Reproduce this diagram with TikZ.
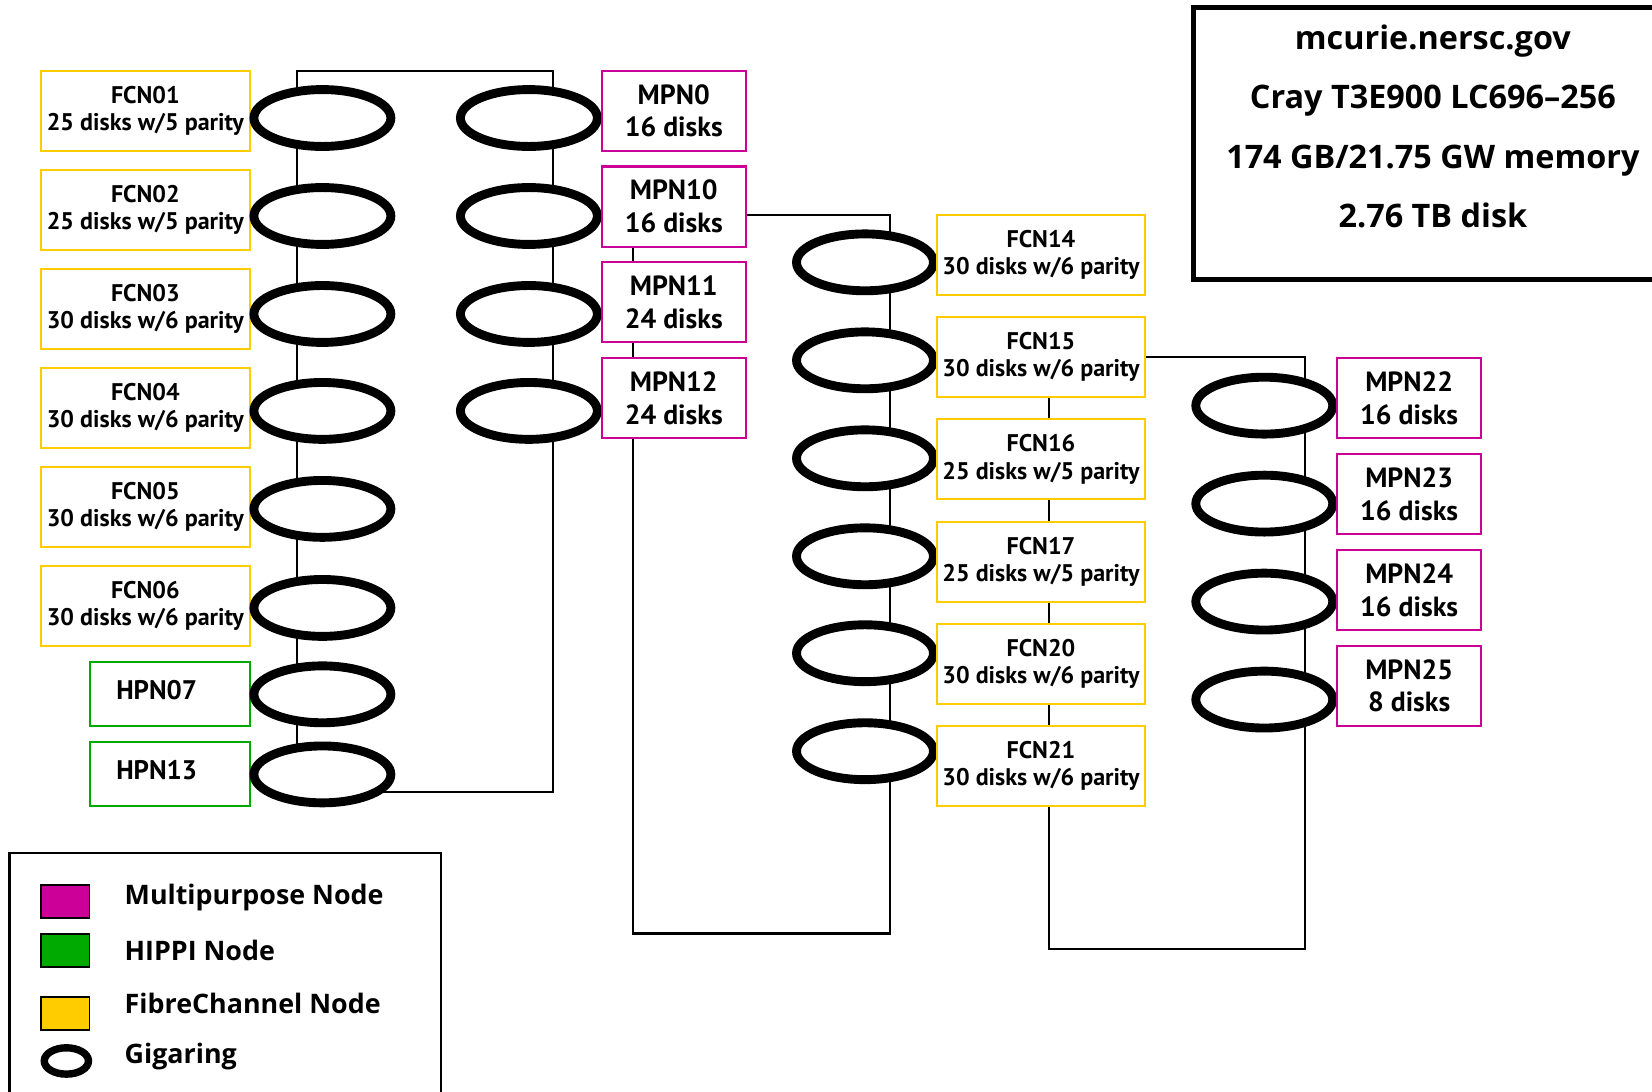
\documentclass[tikz,border=0pt]{standalone}
\usepackage{fontspec}
\setmainfont{PT Sans}
\newfontfamily\infofont{Open Sans}
\usetikzlibrary{shapes.geometric}

\definecolor{mpncol}{RGB}{204,0,153}
\definecolor{hpncol}{RGB}{0,170,0}
\definecolor{fcncol}{RGB}{255,204,0}

\tikzset{
	diskbox/.style={
		draw,
		fill=white,
		line width=1.1pt,
		align=center,
		inner sep=0pt,
		minimum height=1.52cm
	},
	fcnNode/.style={diskbox, draw=fcncol, minimum width=3.96cm, font=\bfseries\fontsize{13}{14.7}\selectfont},
	mpnNode/.style={diskbox, draw=mpncol, minimum width=2.74cm, font=\bfseries\fontsize{15}{17.6}\selectfont},
	hpnNode/.style={diskbox, draw=hpncol, minimum width=3.04cm, minimum height=1.22cm,
		text width=2.04cm, align=left, font=\bfseries\fontsize{14.5}{17}\selectfont},
	hpnText/.style={anchor=west, inner sep=0pt, font=\bfseries\fontsize{14.5}{17}\selectfont},
	gigaring/.style={draw, ellipse, fill=white, line width=4.8pt, inner sep=0pt,
		minimum width=2.6cm, minimum height=1.08cm},
	ringLine/.style={draw, line width=1.1pt},
	infoText/.style={align=center, font=\infofont\bfseries\fontsize{17.5}{32.2}\selectfont},
	legendSwatch/.style={draw, line width=0.9pt, minimum width=0.92cm, minimum height=0.62cm, inner sep=0pt},
	legendText/.style={anchor=west, inner sep=0pt, font=\infofont\bfseries\fontsize{14.5}{18}\selectfont}
}

\begin{document}
\begin{tikzpicture}[x=0.02cm, y=-0.02cm]
	\useasboundingbox (0,0) rectangle (1568,1036);

	% Rings
	\coordinate (ringA-nw) at (282,67);
	\coordinate (ringA-se) at (525,752);
	\coordinate (ringB-nw) at (601,204);
	\coordinate (ringB-se) at (845,886);
	\coordinate (ringC-nw) at (996,339);
	\coordinate (ringC-se) at (1239,901);
	\draw[ringLine] (ringA-nw) rectangle (ringA-se);
	\draw[ringLine] (ringB-nw) rectangle (ringB-se);
	\draw[ringLine] (ringC-nw) rectangle (ringC-se);

	% Left column
	\node[fcnNode] (fcn01) at (138,105) {FCN01\\25 disks w/5 parity};
	\node[fcnNode] (fcn02) at (138,199) {FCN02\\25 disks w/5 parity};
	\node[fcnNode] (fcn03) at (138,293) {FCN03\\30 disks w/6 parity};
	\node[fcnNode] (fcn04) at (138,387) {FCN04\\30 disks w/6 parity};
	\node[fcnNode] (fcn05) at (138,481) {FCN05\\30 disks w/6 parity};
	\node[fcnNode] (fcn06) at (138,575) {FCN06\\30 disks w/6 parity};
	\node[hpnNode] (hpn07) at (161,658.5) {};
	\node[hpnNode] (hpn13) at (161,734.5) {};
	\node[hpnText] (hpn07txt) at (110,655) {HPN07};
	\node[hpnText] (hpn13txt) at (110,731) {HPN13};

	\node[gigaring] (gigA1) at (306,112) {};
	\node[gigaring] (gigA2) at (306,205) {};
	\node[gigaring] (gigA3) at (306,298) {};
	\node[gigaring] (gigA4) at (306,390) {};
	\node[gigaring] (gigA5) at (306,483) {};
	\node[gigaring] (gigA6) at (306,577) {};
	\node[gigaring] (gigA7) at (306,659) {};
	\node[gigaring] (gigA8) at (306,735) {};
	\node[gigaring] (gigA9) at (502,112) {};
	\node[gigaring] (gigA10) at (502,205) {};
	\node[gigaring] (gigA11) at (502,298) {};
	\node[gigaring] (gigA12) at (502,390) {};

	% Multipurpose nodes shared by the first two rings
	\node[mpnNode] (mpn0) at (639.5,105) {MPN0\\16 disks};
	\node[mpnNode] (mpn10) at (639.5,196) {MPN10\\16 disks};
	\node[mpnNode] (mpn11) at (639.5,287) {MPN11\\24 disks};
	\node[mpnNode] (mpn12) at (639.5,378) {MPN12\\24 disks};

	% Middle ring
	\node[gigaring] (gigB1) at (821,249) {};
	\node[gigaring] (gigB2) at (821,342) {};
	\node[gigaring] (gigB3) at (821,435) {};
	\node[gigaring] (gigB4) at (821,528) {};
	\node[gigaring] (gigB5) at (821,620) {};
	\node[gigaring] (gigB6) at (821,713) {};

	\node[fcnNode] (fcn14) at (988,242) {FCN14\\30 disks w/6 parity};
	\node[fcnNode] (fcn15) at (988,339) {FCN15\\30 disks w/6 parity};
	\node[fcnNode] (fcn16) at (988,436) {FCN16\\25 disks w/5 parity};
	\node[fcnNode] (fcn17) at (988,533) {FCN17\\25 disks w/5 parity};
	\node[fcnNode] (fcn20) at (988,630) {FCN20\\30 disks w/6 parity};
	\node[fcnNode] (fcn21) at (988,727) {FCN21\\30 disks w/6 parity};

	% Right ring
	\node[gigaring] (gigC1) at (1200,385) {};
	\node[gigaring] (gigC2) at (1200,478) {};
	\node[gigaring] (gigC3) at (1200,571) {};
	\node[gigaring] (gigC4) at (1200,664) {};

	\node[mpnNode] (mpn22) at (1337.5,378) {MPN22\\16 disks};
	\node[mpnNode] (mpn23) at (1337.5,469) {MPN23\\16 disks};
	\node[mpnNode] (mpn24) at (1337.5,560) {MPN24\\16 disks};
	\node[mpnNode] (mpn25) at (1337.5,651) {MPN25\\8 disks};

	% Machine summary
	\draw[line width=2.8pt] (1133,7) rectangle (1580,265);
	\node[infoText] (info) at (1360,120) {mcurie.nersc.gov\\Cray T3E900 LC696–256\\174 GB/21.75 GW memory\\2.76 TB disk};

	% Legend
	\draw[line width=1.1pt] (9,810) rectangle (419,1045);
	\node[legendSwatch, fill=mpncol] (keyMpn) at (62,855.5) {};
	\node[legendSwatch, fill=hpncol] (keyHpn) at (62,902) {};
	\node[legendSwatch, fill=fcncol] (keyFcn) at (62,962) {};
	\node[draw, ellipse, line width=4pt, minimum width=0.84cm, minimum height=0.5cm, inner sep=0pt] (keyGig) at (63,1007) {};
	\node[legendText] (txtMpn) at (118,852) {Multipurpose Node};
	\node[legendText] (txtHpn) at (118,902) {HIPPI Node};
	\node[legendText] (txtFcn) at (118,952) {FibreChannel Node};
	\node[legendText] (txtGig) at (118,1003) {Gigaring};

\end{tikzpicture}
\end{document}
